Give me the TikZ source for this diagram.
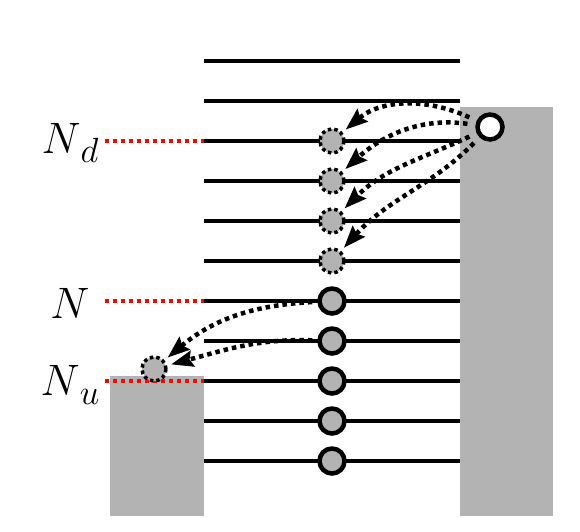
\RequirePackage{fix-cm}
\documentclass[tikz,border=0pt]{standalone}
\usetikzlibrary{arrows.meta}
\definecolor{wallgrey}{RGB}{179,179,179}
\newcommand{\lvl}[2]{$#1$\raisebox{-9pt}{\fontsize{35}{40}\selectfont$#2$}}

\begin{document}
\begin{tikzpicture}[x=1pt, y=-1pt,
    level/.style={line width=4.5pt},
    refline/.style={red, line width=4pt, dash pattern=on 4pt off 4pt},
    wall/.style={fill=wallgrey, draw=none},
    occ/.style={circle, draw, line width=4.5pt, fill=wallgrey,
        minimum size=25pt, inner sep=0pt},
    hole/.style={circle, draw, line width=3.5pt, dash pattern=on 3.5pt off 3pt,
        fill=wallgrey, minimum size=24pt, inner sep=0pt},
    hop/.style={line width=4.5pt, dash pattern=on 4.5pt off 4pt,
        -{Stealth[length=22pt,width=16pt,inset=3pt]}, shorten >=4pt, shorten <=8pt},
    lbl/.style={font=\fontsize{44}{50}\selectfont, anchor=base, inner sep=0pt}
]
    \useasboundingbox[fill=white] (0,0) rectangle (580,531);

    % reservoirs
    \fill[wall] (460,107) rectangle (553,516);
    \fill[wall] (110,376) rectangle (204,516);

    % levels
    \foreach \y in {61,101,...,461}
        \draw[level] (204,\y) -- (460,\y);

    % reference levels
    \foreach \y in {141,301,381}
        \draw[refline] (105,\y) -- (204,\y);
    \node[lbl] (ld) at (70,153) {\lvl{N}{d}};
    \node[lbl] (ln) at (70,318) {\lvl{N}{}};
    \node[lbl] (lu) at (70,395) {\lvl{N}{u}};

    % states
    \foreach \y [count=\i] in {141,181,221,261}
        \node[hole] (d\i) at (332,\y) {};
    \foreach \y [count=\i] in {301,341,381,421,461}
        \node[occ] (n\i) at (332,\y) {};
    \node[occ, fill=white] (rc) at (490,127) {};
    \node[hole] (lc) at (154,369) {};

    % transitions
    \draw[hop] (rc) to[out=155, in=40] (d1);
    \draw[hop] (rc) to[out=172, in=42] (d2);
    \draw[hop] (rc) to[out=205, in=45] (d3);
    \draw[hop] (rc) to[out=225, in=48] (d4);
    \draw[hop, shorten <=5pt] (n1) to[out=183, in=40] (lc);
    \draw[hop, shorten <=5pt] (n2) to[out=178, in=15] (lc);
\end{tikzpicture}
\end{document}
